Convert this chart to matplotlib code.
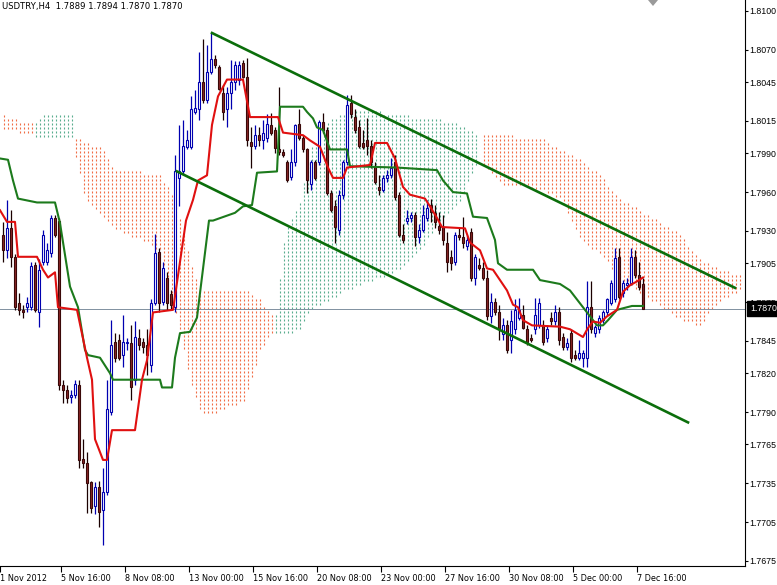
import matplotlib
matplotlib.use("Agg")
import matplotlib.pyplot as plt
import matplotlib.patches as mpatches
from matplotlib.path import Path
from matplotlib.transforms import blended_transform_factory
import numpy as np

# ---------------- data ----------------
title = "USDTRY,H4  1.7889 1.7894 1.7870 1.7870"

bar_index = list(range(1, 162))
opens = [1.7927, 1.7915, 1.7932, 1.7910, 1.7874, 1.7869, 1.7871, 1.7871, 1.7904, 1.7867,
         1.7906, 1.7906, 1.7913, 1.7940, 1.7938, 1.7811, 1.7807, 1.7802, 1.7803, 1.7811,
         1.7754, 1.7751, 1.7736, 1.7717, 1.7732, 1.7714, 1.7728, 1.7790, 1.7844, 1.7846,
         1.7834, 1.7843, 1.7843, 1.7815, 1.7847, 1.7844, 1.7842, 1.7826, 1.7874, 1.7914,
         1.7875, 1.7894, 1.7881, 1.7871, 1.7971, 1.7976, 1.7995, 1.7995, 1.8022, 1.8024,
         1.8045, 1.8031, 1.8053, 1.8063, 1.8057, 1.8037, 1.8024, 1.8037, 1.8045, 1.8047,
         1.8060, 1.8049, 1.7999, 1.7996, 1.8004, 1.8000, 1.8002, 1.8012, 1.8008, 1.7993,
         1.7991, 1.7983, 1.7972, 1.7983, 1.8013, 1.8002, 1.7993, 1.7966, 1.7983, 1.7983,
         1.8014, 1.8008, 1.7959, 1.7949, 1.7931, 1.7958, 1.7983, 1.8029, 1.8018, 1.8010,
         1.7998, 1.8000, 1.7996, 1.7980, 1.7964, 1.7962, 1.7971, 1.7973, 1.7983, 1.7958,
         1.7927, 1.7938, 1.7940, 1.7942, 1.7925, 1.7931, 1.7940, 1.7950, 1.7944, 1.7934,
         1.7933, 1.7921, 1.7910, 1.7906, 1.7927, 1.7925, 1.7918, 1.7929, 1.7894, 1.7904,
         1.7901, 1.7894, 1.7864, 1.7875, 1.7867, 1.7850, 1.7857, 1.7846, 1.7854, 1.7863,
         1.7865, 1.7854, 1.7847, 1.7854, 1.7857, 1.7857, 1.7847, 1.7863, 1.7860, 1.7867,
         1.7848, 1.7840, 1.7851, 1.7834, 1.7832, 1.7832, 1.7832, 1.7871, 1.7851, 1.7854,
         1.7861, 1.7867, 1.7874, 1.7877, 1.7910, 1.7882, 1.7888, 1.7890, 1.7910, 1.7896,
         1.7889]
highs = [1.7937, 1.7954, 1.7946, 1.7912, 1.7882, 1.7873, 1.7879, 1.7906, 1.7906, 1.7908,
         1.7931, 1.7921, 1.7942, 1.7942, 1.7940, 1.7815, 1.7811, 1.7807, 1.7815, 1.7815,
         1.7769, 1.7759, 1.7737, 1.7736, 1.7737, 1.7747, 1.7815, 1.7861, 1.7851, 1.7850,
         1.7865, 1.7847, 1.7857, 1.7860, 1.7854, 1.7847, 1.7854, 1.7877, 1.7928, 1.7917,
         1.7906, 1.7898, 1.7884, 1.7989, 1.8012, 1.8016, 1.8008, 1.8034, 1.8039, 1.8068,
         1.8078, 1.8074, 1.8083, 1.8066, 1.8058, 1.8043, 1.8041, 1.8062, 1.8061, 1.8061,
         1.8062, 1.8064, 1.8010, 1.8012, 1.8010, 1.8016, 1.8020, 1.8021, 1.8010, 1.8041,
         1.7993, 1.7985, 1.7993, 1.8013, 1.8024, 1.8004, 1.7994, 1.7985, 1.7985, 1.8016,
         1.8021, 1.8010, 1.7962, 1.7954, 1.7962, 1.7985, 1.8035, 1.8035, 1.8024, 1.8016,
         1.8008, 1.8017, 1.8000, 1.7983, 1.7973, 1.7973, 1.7977, 1.7986, 1.7989, 1.7960,
         1.7935, 1.7946, 1.7945, 1.7945, 1.7935, 1.7950, 1.7954, 1.7955, 1.7950, 1.7945,
         1.7942, 1.7929, 1.7915, 1.7929, 1.7932, 1.7941, 1.7927, 1.7932, 1.7912, 1.7909,
         1.7906, 1.7900, 1.7882, 1.7878, 1.7873, 1.7863, 1.7861, 1.7869, 1.7877, 1.7878,
         1.7873, 1.7857, 1.7850, 1.7878, 1.7878, 1.7861, 1.7857, 1.7867, 1.7873, 1.7871,
         1.7851, 1.7847, 1.7854, 1.7838, 1.7846, 1.7838, 1.7891, 1.7891, 1.7857, 1.7865,
         1.7869, 1.7878, 1.7892, 1.7917, 1.7917, 1.7892, 1.7894, 1.7917, 1.7915, 1.7906,
         1.7894]
lows = [1.7906, 1.7909, 1.7902, 1.7869, 1.7865, 1.7863, 1.7867, 1.7869, 1.7867, 1.7856,
        1.7904, 1.7904, 1.7910, 1.7925, 1.7807, 1.7797, 1.7797, 1.7797, 1.7801, 1.7747,
        1.7747, 1.7712, 1.7712, 1.7711, 1.7701, 1.7687, 1.7726, 1.7788, 1.7829, 1.7830,
        1.7825, 1.7838, 1.7799, 1.7811, 1.7838, 1.7836, 1.7819, 1.7821, 1.7873, 1.7867,
        1.7873, 1.7869, 1.7869, 1.7867, 1.7949, 1.7973, 1.7993, 1.7993, 1.8020, 1.8016,
        1.8029, 1.8029, 1.8051, 1.8056, 1.8039, 1.8016, 1.8010, 1.8024, 1.8039, 1.8043,
        1.8048, 1.7996, 1.7979, 1.7993, 1.7996, 1.7993, 1.7999, 1.8004, 1.7990, 1.7989,
        1.7987, 1.7968, 1.7969, 1.7980, 1.8000, 1.7991, 1.7959, 1.7962, 1.7969, 1.7981,
        1.8006, 1.7958, 1.7945, 1.7921, 1.7927, 1.7955, 1.7981, 1.8017, 1.8006, 1.7994,
        1.7993, 1.7989, 1.7979, 1.7966, 1.7958, 1.7960, 1.7968, 1.7971, 1.7954, 1.7925,
        1.7921, 1.7935, 1.7937, 1.7918, 1.7921, 1.7929, 1.7938, 1.7937, 1.7932, 1.7928,
        1.7919, 1.7898, 1.7900, 1.7904, 1.7923, 1.7917, 1.7915, 1.7891, 1.7888, 1.7900,
        1.7892, 1.7861, 1.7859, 1.7865, 1.7846, 1.7846, 1.7836, 1.7836, 1.7850, 1.7861,
        1.7854, 1.7842, 1.7844, 1.7850, 1.7855, 1.7842, 1.7844, 1.7857, 1.7857, 1.7842,
        1.7838, 1.7838, 1.7829, 1.7830, 1.7830, 1.7825, 1.7825, 1.7851, 1.7848, 1.7851,
        1.7859, 1.7865, 1.7873, 1.7875, 1.7877, 1.7879, 1.7884, 1.7888, 1.7894, 1.7884,
        1.7870]
closes = [1.7915, 1.7932, 1.7910, 1.7871, 1.7869, 1.7867, 1.7874, 1.7903, 1.7869, 1.7900,
          1.7927, 1.7915, 1.7940, 1.7927, 1.7811, 1.7807, 1.7801, 1.7803, 1.7812, 1.7753,
          1.7751, 1.7735, 1.7716, 1.7732, 1.7713, 1.7728, 1.7792, 1.7842, 1.7832, 1.7832,
          1.7844, 1.7844, 1.7809, 1.7848, 1.7842, 1.7840, 1.7834, 1.7874, 1.7913, 1.7874,
          1.7901, 1.7874, 1.7873, 1.7976, 1.7976, 1.7996, 1.8000, 1.8024, 1.8025, 1.8045,
          1.8031, 1.8053, 1.8063, 1.8058, 1.8040, 1.8022, 1.8037, 1.8045, 1.8058, 1.8058,
          1.8049, 1.8000, 1.7996, 1.8004, 1.8000, 1.8006, 1.8013, 1.8006, 1.7994, 1.7991,
          1.7989, 1.7969, 1.7983, 1.8012, 1.8002, 1.7993, 1.7969, 1.7983, 1.7971, 1.8014,
          1.8008, 1.7959, 1.7946, 1.7933, 1.7958, 1.7983, 1.8027, 1.8020, 1.8008, 1.7996,
          1.7995, 1.7996, 1.7983, 1.7968, 1.7962, 1.7971, 1.7973, 1.7979, 1.7956, 1.7927,
          1.7923, 1.7940, 1.7942, 1.7925, 1.7931, 1.7942, 1.7948, 1.7945, 1.7937, 1.7931,
          1.7923, 1.7906, 1.7905, 1.7927, 1.7925, 1.7921, 1.7923, 1.7894, 1.7910, 1.7901,
          1.7894, 1.7864, 1.7875, 1.7867, 1.7854, 1.7857, 1.7838, 1.7860, 1.7869, 1.7869,
          1.7855, 1.7844, 1.7846, 1.7865, 1.7874, 1.7844, 1.7854, 1.7860, 1.7867, 1.7846,
          1.7840, 1.7843, 1.7832, 1.7832, 1.7836, 1.7836, 1.7871, 1.7854, 1.7856, 1.7863,
          1.7867, 1.7877, 1.7890, 1.7909, 1.7879, 1.7890, 1.7890, 1.7910, 1.7896, 1.7887,
          1.7870]

# Tenkan-sen (red) vertices: bar position, price
tenkan_x = [0.25, 2, 4, 4.75, 9.5, 11, 12.25, 14, 14.75, 19.5, 22, 23.25, 24, 26, 27, 28.25, 34,
            35.75, 37, 38.5, 43.5, 46.75, 48.5, 49.75, 52, 53.25, 54.75, 57, 61, 62.75, 69.75,
            71, 76, 77.75, 80.25, 82.25, 83.5, 86, 87, 92.75, 94, 97, 99, 101, 102.75, 106.5,
            107.75, 109.5, 110.75, 116.5, 117.75, 120.25, 122, 123.5, 125.25, 127, 128.5,
            129.75, 131, 133.25, 140.25, 142.75, 146, 147.25, 148.5, 150.25, 152, 154.5, 156,
            157.75, 159.5, 161]
tenkan_y = [1.7946, 1.7937, 1.7937, 1.7910, 1.7910, 1.7900, 1.7894, 1.7898, 1.7871, 1.7869,
            1.7832, 1.7815, 1.7769, 1.7753, 1.7753, 1.7776, 1.7776, 1.7815, 1.7830, 1.7867,
            1.7869, 1.7938, 1.7954, 1.7969, 1.7973, 1.8012, 1.8034, 1.8047, 1.8047, 1.8018,
            1.8018, 1.8006, 1.8004, 1.8000, 1.7995, 1.7979, 1.7971, 1.7971, 1.7979, 1.7981,
            1.7998, 1.7998, 1.7986, 1.7964, 1.7958, 1.7955, 1.7949, 1.7940, 1.7933, 1.7932,
            1.7921, 1.7915, 1.7901, 1.7900, 1.7892, 1.7884, 1.7873, 1.7871, 1.7861, 1.7857,
            1.7856, 1.7854, 1.7848, 1.7855, 1.7860, 1.7859, 1.7864, 1.7869, 1.7883, 1.7888,
            1.7891, 1.7894]

# Kijun-sen (green) vertices
kijun_x = [0.25, 2.25, 3.5, 4.75, 9.5, 14, 15.25, 17.75, 19.75, 21.5, 22.25, 25.25, 27.75, 28.5,
           40.25, 40.75, 43.25, 44, 45.25, 47.75, 49.5, 50.25, 52.5, 53.5, 59, 61, 63.25, 64.5,
           69.5, 70.25, 76, 77, 78.5, 79.5, 81, 82.75, 87, 87.75, 99.5, 109.5, 111, 113.5, 117,
           118.5, 122, 124, 124.75, 127, 133.5, 135.25, 140.25, 142.75, 145.25, 147.75, 149.5,
           151, 152.25, 154.5, 157, 158.25, 161]
kijun_y = [1.7986, 1.7985, 1.7969, 1.7955, 1.7952, 1.7952, 1.7936, 1.7887, 1.7871, 1.7838,
           1.7834, 1.7832, 1.7820, 1.7815, 1.7815, 1.7809, 1.7809, 1.7832, 1.7851, 1.7852,
           1.7863, 1.7882, 1.7938, 1.7938, 1.7944, 1.7949, 1.7950, 1.7975, 1.7976, 1.8026,
           1.8026, 1.8022, 1.8017, 1.8010, 1.8008, 1.7993, 1.7993, 1.7980, 1.7979, 1.7977,
           1.7969, 1.7960, 1.7959, 1.7941, 1.7940, 1.7923, 1.7905, 1.7900, 1.7900, 1.7892,
           1.7889, 1.7884, 1.7874, 1.7864, 1.7857, 1.7857, 1.7861, 1.7869, 1.7871, 1.7872,
           1.7872]

# Kumo (cloud) segments: bar position, upper span, lower span
kumo1_x = [0.25, 8.25]
kumo1_top = [1.8020, 1.8013]
kumo1_bot = [1.8010, 1.8004]
kumo2_x = [8.5, 11.5, 18.25]
kumo2_top = [1.8012, 1.8021, 1.8021]
kumo2_bot = [1.8003, 1.8003, 1.8003]
kumo3_x = [18.25, 21.5, 25.25, 29, 35.25, 40.25, 44, 47.75, 50.25, 54, 61.5, 65.25, 69]
kumo3_top = [1.8004, 1.7998, 1.7996, 1.7977, 1.7976, 1.7973, 1.7954, 1.7908, 1.7884, 1.7884,
             1.7884, 1.7877, 1.7861]
kumo3_bot = [1.8000, 1.7954, 1.7944, 1.7931, 1.7923, 1.7915, 1.7869, 1.7815, 1.7789, 1.7789,
             1.7799, 1.7838, 1.7854]
kumo4_x = [69, 71.5, 75.25, 77.75, 82.75, 86.5, 90.25, 100.25, 105.25, 110.25, 115.25, 119.75]
kumo4_top = [1.7861, 1.7931, 1.7954, 1.7993, 1.8016, 1.8022, 1.8024, 1.8020, 1.8017, 1.8016,
             1.8012, 1.8004]
kumo4_bot = [1.7850, 1.7850, 1.7854, 1.7869, 1.7877, 1.7884, 1.7888, 1.7900, 1.7915, 1.7938,
             1.7954, 1.7985]
kumo5_x = [120.25, 125.25, 135.25, 140.25, 145.25, 150.25, 155.25, 162.75, 170.25, 175.25,
           180.25, 185.25]
kumo5_top = [1.8004, 1.8004, 1.8002, 1.7993, 1.7985, 1.7973, 1.7954, 1.7942, 1.7927, 1.7908,
             1.7900, 1.7896]
kumo5_bot = [1.7985, 1.7966, 1.7962, 1.7954, 1.7923, 1.7912, 1.7892, 1.7877, 1.7861, 1.7857,
             1.7877, 1.7884]

# trend channel lines (start bar, start price), (end bar, end price)
channel_upper = [(53.25, 1.8083), (184.0, 1.7886)]
channel_lower = [(44.5, 1.7976), (172.25, 1.7782)]

last_price = 1.7870
y_ticks = [1.8100, 1.8070, 1.8045, 1.8015, 1.7990, 1.7960, 1.7930, 1.7905, 1.7875,
           1.7845, 1.7820, 1.7790, 1.7765, 1.7735, 1.7705, 1.7675]
x_tick_pos = [0.25, 15.5, 31.5, 47.5, 63.5, 79.5, 95.5, 111.5, 127.5, 143.5, 159.5]
x_tick_labels = ["1 Nov 2012", "5 Nov 16:00", "8 Nov 08:00", "13 Nov 00:00", "15 Nov 16:00",
                 "20 Nov 08:00", "23 Nov 00:00", "27 Nov 16:00", "30 Nov 08:00",
                 "5 Dec 00:00", "7 Dec 16:00"]

# ---------------- drawing ----------------
FONT = "DejaVu Sans"
FONT_Y = "Liberation Sans"
FS = 5.9
FS_Y = 6.3
W, H = 777, 585
fig = plt.figure(figsize=(W / 100, H / 100), dpi=100)
fig.patch.set_facecolor("white")
ax = fig.add_axes([0, 19 / H, 745 / W, 566 / H])
ax.set_xlim(0.25, 186.5)
ax.set_ylim(1.76710, 1.81085)
ax.set_facecolor("white")

# cloud: dotted texture (one short dash per bar column, every 4 px) inside each kumo polygon
ORANGE = "#f06c44"
TEAL = "#58ad8e"
ylo, yhi = ax.get_ylim()
ppu = 566 / (yhi - ylo)                      # pixels per price unit
cols = np.arange(0, 190) + 0.125             # pixel-centred columns
rows = ylo + (np.arange(0, 142) * 4 + 2) / ppu
gx, gy = np.meshgrid(cols, rows)
grid = np.column_stack([gx.ravel(), gy.ravel()])
for sx, st, sb, col in [(kumo1_x, kumo1_top, kumo1_bot, ORANGE),
                        (kumo2_x, kumo2_top, kumo2_bot, TEAL),
                        (kumo3_x, kumo3_top, kumo3_bot, ORANGE),
                        (kumo4_x, kumo4_top, kumo4_bot, TEAL),
                        (kumo5_x, kumo5_top, kumo5_bot, ORANGE)]:
    verts = np.column_stack([list(sx) + list(sx)[::-1], list(st) + list(sb)[::-1]])
    inside = Path(verts).contains_points(grid)
    pts = grid[inside]
    ax.plot(pts[:, 0], pts[:, 1], linestyle="none", marker="|", markersize=1.6,
            markeredgewidth=0.8, color=col, zorder=1, antialiased=False)

ax.axhline(last_price, color="#8090a0", lw=0.7, zorder=2)

o = np.array(opens); h = np.array(highs); l = np.array(lows); c = np.array(closes)
x = np.array(bar_index)
up = c >= o
wick_col = np.where(up, "#0000b0", "#1a0000")
ax.vlines(x, l, h, colors=list(wick_col), linewidth=0.9, zorder=3)
face = np.where(up, "white", "#8a2626")
edge = np.where(up, "#0000b0", "#3a0808")
hgt = np.abs(c - o)
hgt = np.where(hgt < 0.00005, 0.00005, hgt)
ax.bar(x, hgt, bottom=np.minimum(o, c), width=0.6, color=list(face),
       edgecolor=list(edge), linewidth=0.8, zorder=4)

ax.plot(kijun_x, kijun_y, color="#1c7a1c", lw=1.5, zorder=5, solid_joinstyle="round")
ax.plot(tenkan_x, tenkan_y, color="#e01010", lw=1.5, zorder=6, solid_joinstyle="round")

for seg in (channel_upper, channel_lower):
    ax.plot([seg[0][0], seg[1][0]], [seg[0][1], seg[1][1]], color="#0b6e0b", lw=1.9, zorder=7)

# axes styling
for s in ("top", "left"):
    ax.spines[s].set_visible(False)
for s in ("right", "bottom"):
    ax.spines[s].set_color("black")
    ax.spines[s].set_linewidth(0.8)
ax.yaxis.tick_right()
ax.set_yticks(y_ticks)
ax.set_yticklabels([f"{v:.4f}" for v in y_ticks], fontsize=FS_Y, family=FONT_Y)
ax.set_xticks(x_tick_pos)
ax.set_xticklabels(x_tick_labels, fontsize=FS, family=FONT, ha="left")
ax.tick_params(axis="y", direction="out", length=2.5, width=0.8, pad=0.8)
ax.tick_params(axis="x", direction="out", length=4, width=0.8, pad=2)

ax.text(0.003, 0.997, title, transform=ax.transAxes, va="top", ha="left",
        fontsize=6.1, family=FONT, color="black")

tr = blended_transform_factory(ax.transAxes, ax.transData)
ax.text(1.0 + 5 / 745, last_price, f"{last_price:.4f}", transform=tr, va="center", ha="left",
        fontsize=FS_Y, family=FONT_Y, color="white", clip_on=False, zorder=20,
        bbox=dict(boxstyle="square,pad=0.3", fc="black", ec="black"))

tri = mpatches.Polygon([[648 / W, 1.0], [658 / W, 1.0], [653 / W, (H - 6) / H]],
                       closed=True, transform=fig.transFigure, fc="#9a9a9a", ec="none")
fig.patches.append(tri)

fig.savefig("out.png", dpi=100)
